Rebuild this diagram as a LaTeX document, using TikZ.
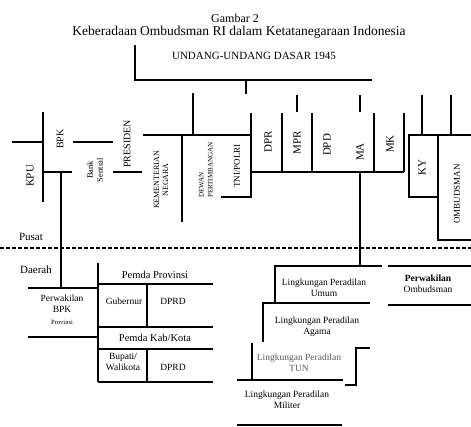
\documentclass[tikz,border=0pt]{standalone}
\usepackage{fontspec}
\setmainfont{Liberation Serif}

\begin{document}
\begin{tikzpicture}[x=1pt, y=-1pt,
                every node/.style={inner sep=0pt, align=center, font=\fontsize{11}{12}\selectfont},
                line/.style={draw, line width=1.3pt},
                lbl/.style={rotate=90, font=\fontsize{11}{12}\selectfont},
                slbl/.style={rotate=90, font=\fontsize{7.5}{8.5}\selectfont},
                txt/.style={font=\fontsize{9.5}{11}\selectfont}]

                \useasboundingbox (0,0) rectangle (471,427);

                % Define nodes
                \node (fig) at (235,18) {\fontsize{12}{13}\selectfont Gambar 2}; % caption
                \node (title) at (239,32) {\fontsize{13.5}{15}\selectfont Keberadaan Ombudsman RI dalam Ketatanegaraan Indonesia};
                \node (uud) at (254,56) {UNDANG-UNDANG DASAR 1945}; % top level
                \node[lbl] (kpu) at (30,176) {KPU};
                \node[lbl, font=\fontsize{10}{11}\selectfont] (bpk) at (60,139) {BPK};
                \node[slbl, font=\fontsize{8.5}{10}\selectfont] (bank) at (95,170) {Bank\\Sentral};
                \node[lbl, font=\fontsize{10}{11}\selectfont] (pres) at (127,144) {PRESIDEN};
                \node[slbl, font=\fontsize{8}{9}\selectfont] (kemen) at (161,180) {KEMENTERIAN\\NEGARA};
                \node[slbl, font=\fontsize{7}{9}\selectfont, align=left, anchor=south west] (dpa) at (213,198) {DEWAN\\PERTIMBANGAN};
                \node[slbl, font=\fontsize{9}{10}\selectfont] (tni) at (237,166) {TNI/POLRI};
                \node[lbl] (dpr) at (268,142) {DPR};
                \node[lbl] (mpr) at (297,143) {MPR};
                \node[lbl] (dpd) at (327,145) {DPD};
                \node[lbl] (ma) at (360,152) {MA};
                \node[lbl] (mk) at (390,144) {MK};
                \node[lbl] (ky) at (422,168) {KY};
                \node[slbl, font=\fontsize{9}{10}\selectfont] (omb) at (457,194) {OMBUDSMAN};
                \node (pusat) at (31,237) {Pusat};
                \node (daerah) at (36,270) {Daerah};
                \node[txt] (pbpk) at (62,310) {Perwakilan\\BPK\\[1pt]{\fontsize{6.5}{7}\selectfont Provinsi}};
                \node[txt, font=\fontsize{10.5}{12}\selectfont] (prov) at (155,275) {Pemda Provinsi};
                \node[txt] (gub) at (124,301) {Gubernur};
                \node[txt] (dprd1) at (173,301) {DPRD};
                \node[txt, font=\fontsize{10.5}{12}\selectfont] (kab) at (155,338) {Pemda Kab/Kota};
                \node[txt] (bup) at (123,362) {Bupati/\\Walikota};
                \node[txt] (dprd2) at (173,367) {DPRD};
                \node[txt] (umum) at (324,288) {Lingkungan Peradilan\\Umum};
                \node[txt] (agama) at (317,327) {Lingkungan Peradilan\\Agama};
                \node[txt, text=black!65] (tun) at (299,363) {Lingkungan Peradilan\\TUN};
                \node[txt] (militer) at (287,400) {Lingkungan Peradilan\\Militer};
                \node[txt] (pomb) at (428,284) {\textbf{Perwakilan}\\Ombudsman};

                % Define lines
                \path [line](135,45) -- (135,80) -- (372,80); % UUD
                \path [line](246,80) -- (246,94);
                \path [line](193,93) -- (193,135);
                \path [line](143,135) -- (251,135);
                \path [line](182,135) -- (182,222);
                \path [line](251,113) -- (251,197) -- (221,197);
                \path [line](113,172) -- (142,172);
                \path [line](73,142) -- (113,142);
                \path [line](43,112) -- (43,202);
                \path [line](12,142) -- (43,142);
                \path [line](43,172) -- (72,172);
                \path [line](61,172) -- (61,288);
                \path [line](28,288) -- (97,288);
                \path [line](28,337) -- (97,337);
                \path [line](251,172) -- (404,172);
                \foreach \x in {282,312,374,404}
                    \path [line](\x,113) -- (\x,172);
                \path [line](297,95) -- (297,112);
                \path [line](360,95) -- (360,112);
                \path [line](360,172) -- (360,266);
                \path [line](471,135) -- (409,135) -- (409,197) -- (438,197);
                \path [line](438,135) -- (438,240) -- (471,240);
                \path [line](422,95) -- (422,135);
                \path [line](451,95) -- (451,135);
                \path [draw, line width=1.2pt, dash pattern=on 4pt off 2pt](0,248) -- (471,248); % Pusat / Daerah
                \path [line](98,263) -- (98,382);
                \foreach \y in {284,327,349,382}
                    \path [line](98,\y) -- (213,\y);
                \path [line](147,284) -- (147,327);
                \path [line](147,349) -- (147,382);
                \path [line](275,303) -- (275,266) -- (382,266);
                \path [line](263,342) -- (263,303) -- (370,303);
                \path [line](252,343) -- (252,380);
                \path [line](237,380) -- (343,380);
                \path [line](370,348) -- (356,348) -- (356,385) -- (345,385);
                \path [line](237,425) -- (342,425);
                \path [line](388,266) -- (471,266);
                \path [line](388,305) -- (471,305);
                \end{tikzpicture}
\end{document}
